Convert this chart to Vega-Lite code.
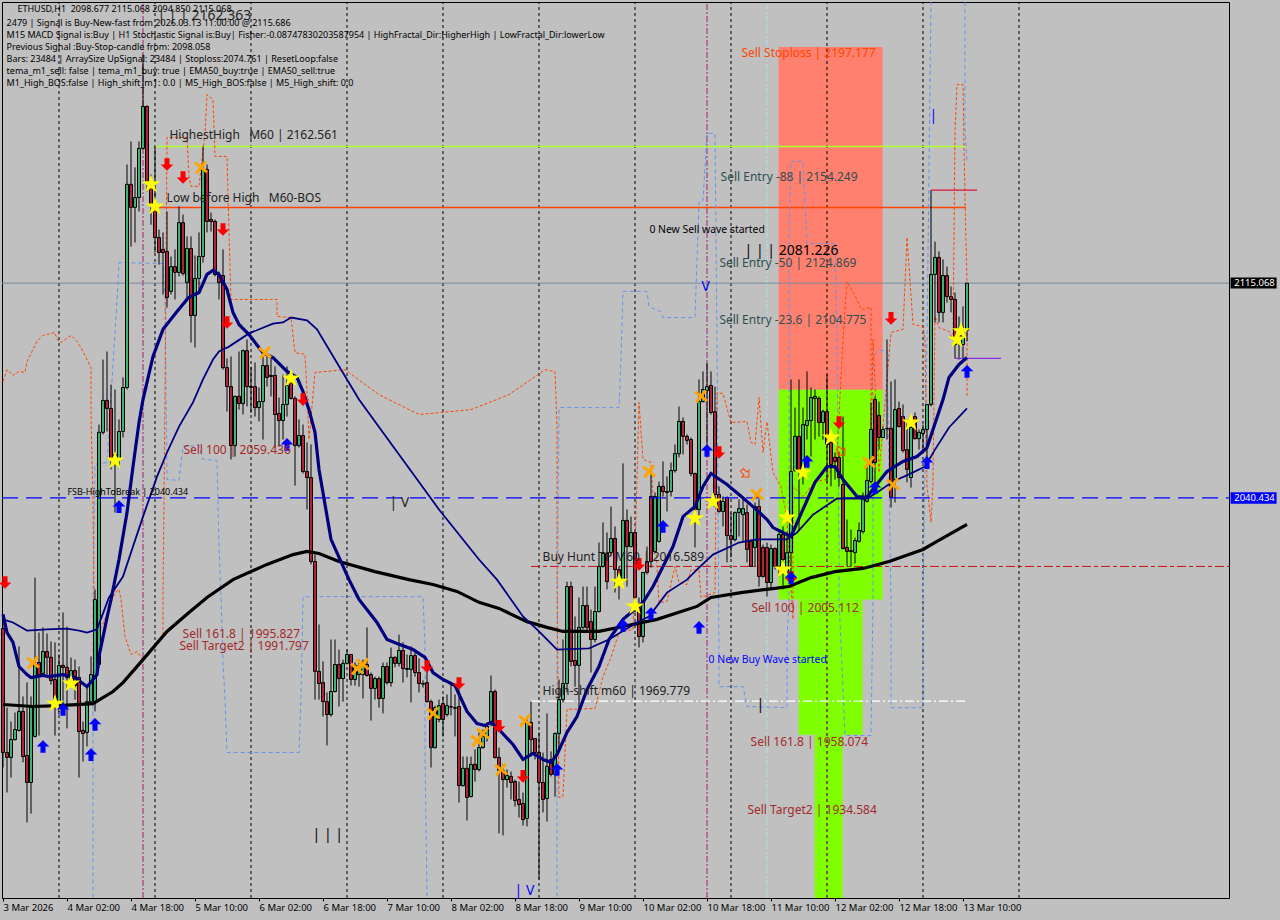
{"$schema":"https://vega.github.io/schema/vega-lite/v6.json","width":1227,"height":896,"autosize":{"type":"none"},"padding":{"left":2,"top":2,"right":51,"bottom":22},"background":"#C0C0C0","config":{"view":{"stroke":"#000000","strokeWidth":1},"text":{"font":"Noto Sans"}},
"datasets":{
"candles":[{"i":0,"o":1995.0,"h":1999.9,"l":1946.7,"c":1951.9},{"i":1,"o":1951.9,"h":1967.5,"l":1938.0,"c":1950.2},{"i":2,"o":1950.2,"h":1962.7,"l":1943.2,"c":1956.4},{"i":3,"o":1956.4,"h":1965.8,"l":1956.1,"c":1959.9},{"i":4,"o":1959.6,"h":1988.8,"l":1959.2,"c":1966.2},{"i":5,"o":1966.2,"h":1971.4,"l":1948.5,"c":1950.5},{"i":6,"o":1950.9,"h":1976.3,"l":1927.6,"c":1941.5},{"i":7,"o":1941.5,"h":1971.4,"l":1930.7,"c":1967.9},{"i":8,"o":1957.5,"h":2012.7,"l":1957.1,"c":1982.5},{"i":9,"o":1983.2,"h":1993.6,"l":1957.8,"c":1979.0},{"i":10,"o":1979.4,"h":1995.4,"l":1978.7,"c":1987.0},{"i":11,"o":1987.0,"h":1993.3,"l":1979.0,"c":1985.0},{"i":12,"o":1985.0,"h":1990.5,"l":1975.5,"c":1976.9},{"i":13,"o":1977.3,"h":1990.2,"l":1957.8,"c":1968.6},{"i":14,"o":1969.6,"h":1986.0,"l":1965.1,"c":1982.2},{"i":15,"o":1982.2,"h":2000.6,"l":1965.8,"c":1981.5},{"i":16,"o":1981.5,"h":1995.7,"l":1960.3,"c":1978.0},{"i":17,"o":1976.6,"h":1984.9,"l":1975.9,"c":1980.4},{"i":18,"o":1980.4,"h":1984.2,"l":1970.3,"c":1975.2},{"i":19,"o":1978.0,"h":1981.8,"l":1943.2,"c":1959.2},{"i":20,"o":1959.6,"h":1962.7,"l":1948.8,"c":1958.5},{"i":21,"o":1958.9,"h":1974.8,"l":1954.0,"c":1969.6},{"i":22,"o":1969.6,"h":1985.3,"l":1969.3,"c":1979.0},{"i":23,"o":1969.6,"h":2008.6,"l":1966.2,"c":2005.1},{"i":24,"o":1982.5,"h":2065.9,"l":1981.5,"c":2063.2},{"i":25,"o":2063.2,"h":2088.5,"l":2062.5,"c":2074.3},{"i":26,"o":2074.3,"h":2091.3,"l":2063.5,"c":2071.5},{"i":27,"o":2071.5,"h":2079.8,"l":2050.3,"c":2053.8},{"i":28,"o":2053.1,"h":2078.1,"l":2035.3,"c":2055.5},{"i":29,"o":2053.8,"h":2067.7,"l":2051.3,"c":2063.5},{"i":30,"o":2063.5,"h":2082.3,"l":2061.4,"c":2078.8},{"i":31,"o":2078.8,"h":2156.3,"l":2078.1,"c":2149.4},{"i":32,"o":2149.4,"h":2164.3,"l":2127.8,"c":2141.4},{"i":33,"o":2141.4,"h":2155.3,"l":2129.2,"c":2144.8},{"i":34,"o":2144.8,"h":2164.3,"l":2140.0,"c":2161.9},{"i":35,"o":2161.9,"h":2194.5,"l":2161.5,"c":2176.5},{"i":36,"o":2176.5,"h":2176.8,"l":2146.9,"c":2150.1},{"i":37,"o":2150.1,"h":2152.8,"l":2135.4,"c":2142.4},{"i":38,"o":2141.7,"h":2162.6,"l":2125.7,"c":2130.9},{"i":39,"o":2130.9,"h":2133.7,"l":2121.5,"c":2125.7},{"i":40,"o":2126.8,"h":2132.7,"l":2111.1,"c":2125.7},{"i":41,"o":2126.1,"h":2140.0,"l":2106.6,"c":2110.1},{"i":42,"o":2112.2,"h":2124.3,"l":2111.1,"c":2120.8},{"i":43,"o":2120.8,"h":2126.8,"l":2109.4,"c":2118.8},{"i":44,"o":2118.8,"h":2141.7,"l":2117.4,"c":2136.1},{"i":45,"o":2136.1,"h":2138.9,"l":2117.7,"c":2118.4},{"i":46,"o":2115.3,"h":2131.3,"l":2109.4,"c":2127.1},{"i":47,"o":2127.1,"h":2131.3,"l":2094.4,"c":2103.8},{"i":48,"o":2103.8,"h":2124.7,"l":2092.7,"c":2116.7},{"i":49,"o":2116.7,"h":2132.7,"l":2111.8,"c":2124.3},{"i":50,"o":2124.3,"h":2162.6,"l":2122.2,"c":2154.6},{"i":51,"o":2154.6,"h":2156.3,"l":2132.7,"c":2136.5},{"i":52,"o":2137.2,"h":2139.6,"l":2133.0,"c":2136.5},{"i":53,"o":2136.5,"h":2137.2,"l":2117.4,"c":2118.1},{"i":54,"o":2118.1,"h":2119.1,"l":2109.4,"c":2115.3},{"i":55,"o":2117.7,"h":2126.8,"l":2085.0,"c":2085.7},{"i":56,"o":2085.7,"h":2088.9,"l":2070.4,"c":2079.1},{"i":57,"o":2079.1,"h":2089.6,"l":2053.8,"c":2058.6},{"i":58,"o":2058.6,"h":2076.0,"l":2054.8,"c":2075.7},{"i":59,"o":2075.7,"h":2091.3,"l":2071.1,"c":2073.2},{"i":60,"o":2073.2,"h":2092.0,"l":2069.4,"c":2091.6},{"i":61,"o":2091.6,"h":2095.5,"l":2072.2,"c":2079.1},{"i":62,"o":2079.1,"h":2086.0,"l":2070.0,"c":2078.8},{"i":63,"o":2079.1,"h":2087.5,"l":2068.7,"c":2071.8},{"i":64,"o":2071.8,"h":2078.8,"l":2067.0,"c":2073.9},{"i":65,"o":2073.9,"h":2090.3,"l":2060.7,"c":2086.4},{"i":66,"o":2086.4,"h":2089.6,"l":2079.1,"c":2082.3},{"i":67,"o":2083.0,"h":2089.2,"l":2075.7,"c":2082.6},{"i":68,"o":2083.0,"h":2086.1,"l":2057.9,"c":2069.4},{"i":69,"o":2069.8,"h":2075.3,"l":2058.3,"c":2067.3},{"i":70,"o":2067.3,"h":2083.3,"l":2060.7,"c":2072.9},{"i":71,"o":2072.9,"h":2086.1,"l":2068.7,"c":2079.5},{"i":72,"o":2080.5,"h":2083.3,"l":2074.6,"c":2075.0},{"i":73,"o":2075.0,"h":2075.7,"l":2044.7,"c":2058.6},{"i":74,"o":2058.6,"h":2067.7,"l":2057.9,"c":2062.1},{"i":75,"o":2062.1,"h":2065.9,"l":2048.9,"c":2049.6},{"i":76,"o":2049.6,"h":2059.7,"l":2036.4,"c":2047.5},{"i":77,"o":2047.5,"h":2059.0,"l":2017.3,"c":2018.3},{"i":78,"o":2018.3,"h":2020.7,"l":1970.3,"c":1980.1},{"i":79,"o":1980.1,"h":1996.4,"l":1970.3,"c":1975.9},{"i":80,"o":1976.2,"h":1983.6,"l":1964.4,"c":1969.6},{"i":81,"o":1969.6,"h":1972.8,"l":1954.4,"c":1965.1},{"i":82,"o":1965.1,"h":1991.2,"l":1964.4,"c":1973.1},{"i":83,"o":1973.1,"h":1991.2,"l":1972.8,"c":1982.5},{"i":84,"o":1982.5,"h":1987.7,"l":1967.9,"c":1977.6},{"i":85,"o":1977.6,"h":1984.2,"l":1969.6,"c":1982.9},{"i":86,"o":1982.9,"h":1987.7,"l":1982.5,"c":1986.0},{"i":87,"o":1986.0,"h":1986.0,"l":1975.2,"c":1977.3},{"i":88,"o":1977.3,"h":1983.2,"l":1975.2,"c":1982.2},{"i":89,"o":1979.0,"h":1984.2,"l":1974.8,"c":1982.2},{"i":90,"o":1979.0,"h":1984.2,"l":1970.7,"c":1982.5},{"i":91,"o":1982.5,"h":1995.4,"l":1978.3,"c":1978.7},{"i":92,"o":1979.0,"h":1979.7,"l":1963.0,"c":1974.2},{"i":93,"o":1974.2,"h":1978.3,"l":1970.3,"c":1977.6},{"i":94,"o":1977.6,"h":1978.3,"l":1967.5,"c":1970.7},{"i":95,"o":1970.7,"h":1983.2,"l":1965.5,"c":1981.8},{"i":96,"o":1981.8,"h":1983.2,"l":1975.5,"c":1976.2},{"i":97,"o":1976.2,"h":1988.4,"l":1974.8,"c":1985.0},{"i":98,"o":1985.0,"h":1985.3,"l":1981.5,"c":1982.9},{"i":99,"o":1982.9,"h":1992.9,"l":1981.8,"c":1987.4},{"i":100,"o":1987.4,"h":1990.2,"l":1976.2,"c":1981.1},{"i":101,"o":1980.8,"h":1986.0,"l":1978.0,"c":1981.1},{"i":102,"o":1980.8,"h":1988.8,"l":1969.3,"c":1985.6},{"i":103,"o":1985.6,"h":1986.7,"l":1978.3,"c":1979.7},{"i":104,"o":1979.7,"h":1984.6,"l":1972.8,"c":1975.9},{"i":105,"o":1975.9,"h":1977.0,"l":1974.5,"c":1975.7},{"i":106,"o":1976.2,"h":1984.2,"l":1969.3,"c":1969.6},{"i":107,"o":1969.6,"h":1970.3,"l":1946.7,"c":1953.6},{"i":108,"o":1953.6,"h":1968.2,"l":1953.3,"c":1967.5},{"i":109,"o":1963.4,"h":1970.3,"l":1962.4,"c":1968.2},{"i":110,"o":1968.9,"h":1971.4,"l":1957.5,"c":1963.4},{"i":111,"o":1965.1,"h":1972.1,"l":1964.4,"c":1968.2},{"i":112,"o":1967.9,"h":1975.5,"l":1964.8,"c":1967.7},{"i":113,"o":1967.5,"h":1972.1,"l":1957.5,"c":1967.3},{"i":114,"o":1967.9,"h":1973.8,"l":1934.5,"c":1940.4},{"i":115,"o":1940.4,"h":1950.5,"l":1940.1,"c":1946.4},{"i":116,"o":1946.4,"h":1950.5,"l":1928.3,"c":1936.3},{"i":117,"o":1936.6,"h":1950.5,"l":1936.3,"c":1947.8},{"i":118,"o":1947.8,"h":1953.0,"l":1941.8,"c":1946.0},{"i":119,"o":1946.0,"h":1958.9,"l":1945.3,"c":1953.6},{"i":120,"o":1953.6,"h":1959.9,"l":1953.3,"c":1957.5},{"i":121,"o":1957.5,"h":1962.4,"l":1955.7,"c":1961.0},{"i":122,"o":1962.4,"h":1978.7,"l":1961.0,"c":1973.1},{"i":123,"o":1973.1,"h":1973.8,"l":1949.8,"c":1950.2},{"i":124,"o":1950.2,"h":1953.6,"l":1923.8,"c":1945.7},{"i":125,"o":1945.7,"h":1947.8,"l":1923.1,"c":1942.5},{"i":126,"o":1942.5,"h":1946.0,"l":1939.7,"c":1943.9},{"i":127,"o":1943.6,"h":1945.3,"l":1935.6,"c":1941.5},{"i":128,"o":1941.8,"h":1942.5,"l":1933.1,"c":1935.2},{"i":129,"o":1935.6,"h":1941.8,"l":1929.3,"c":1933.8},{"i":130,"o":1934.2,"h":1938.0,"l":1926.5,"c":1928.6},{"i":131,"o":1929.0,"h":1964.4,"l":1926.2,"c":1962.4},{"i":132,"o":1962.4,"h":1969.6,"l":1950.5,"c":1956.4},{"i":133,"o":1956.8,"h":1956.8,"l":1949.5,"c":1951.9},{"i":134,"o":1951.9,"h":1958.9,"l":1907.8,"c":1941.5},{"i":135,"o":1941.5,"h":1951.9,"l":1931.1,"c":1935.6},{"i":136,"o":1935.9,"h":1965.5,"l":1927.9,"c":1947.1},{"i":137,"o":1949.5,"h":1952.3,"l":1943.6,"c":1944.3},{"i":138,"o":1944.3,"h":1958.9,"l":1936.6,"c":1958.5},{"i":139,"o":1958.5,"h":1977.3,"l":1953.0,"c":1970.3},{"i":140,"o":1970.3,"h":1991.2,"l":1969.3,"c":1975.9},{"i":141,"o":1975.9,"h":2011.3,"l":1972.8,"c":2009.6},{"i":142,"o":2009.6,"h":2011.3,"l":1981.8,"c":1983.6},{"i":143,"o":1983.9,"h":1999.2,"l":1974.8,"c":1982.2},{"i":144,"o":1982.2,"h":2005.8,"l":1965.8,"c":1995.4},{"i":145,"o":1995.4,"h":2009.6,"l":1994.7,"c":2003.0},{"i":146,"o":2003.0,"h":2009.6,"l":1994.0,"c":1995.4},{"i":147,"o":1997.4,"h":2001.6,"l":1979.7,"c":1991.2},{"i":148,"o":1991.2,"h":2009.6,"l":1990.2,"c":2000.9},{"i":149,"o":2000.9,"h":2024.9,"l":2000.6,"c":2016.6},{"i":150,"o":2016.6,"h":2031.9,"l":2016.2,"c":2021.1},{"i":151,"o":2021.1,"h":2028.4,"l":2008.6,"c":2011.3},{"i":152,"o":2021.4,"h":2037.4,"l":2020.7,"c":2026.3},{"i":153,"o":2026.3,"h":2030.5,"l":2007.5,"c":2015.5},{"i":154,"o":2015.5,"h":2016.6,"l":2005.1,"c":2012.0},{"i":155,"o":2012.0,"h":2052.4,"l":2011.3,"c":2032.6},{"i":156,"o":2032.6,"h":2036.4,"l":2009.6,"c":2023.5},{"i":157,"o":2023.5,"h":2033.9,"l":2023.2,"c":2028.4},{"i":158,"o":2028.4,"h":2028.4,"l":2000.6,"c":2005.8},{"i":159,"o":2002.3,"h":2005.8,"l":1988.4,"c":1992.2},{"i":160,"o":1992.2,"h":2014.5,"l":1990.2,"c":2014.5},{"i":161,"o":2018.3,"h":2023.5,"l":2013.8,"c":2014.5},{"i":162,"o":2040.9,"h":2049.2,"l":2016.2,"c":2018.3},{"i":163,"o":2021.8,"h":2042.3,"l":2021.4,"c":2040.9},{"i":164,"o":2025.3,"h":2046.1,"l":2024.9,"c":2044.4},{"i":165,"o":2044.4,"h":2053.1,"l":2040.9,"c":2042.6},{"i":166,"o":2042.6,"h":2047.9,"l":2035.7,"c":2042.3},{"i":167,"o":2042.6,"h":2052.7,"l":2040.9,"c":2049.9},{"i":168,"o":2049.9,"h":2059.0,"l":2049.2,"c":2055.8},{"i":169,"o":2055.8,"h":2072.2,"l":2054.5,"c":2067.0},{"i":170,"o":2067.0,"h":2068.4,"l":2055.5,"c":2061.8},{"i":171,"o":2061.8,"h":2062.5,"l":2059.0,"c":2060.4},{"i":172,"o":2060.7,"h":2061.4,"l":2047.9,"c":2048.9},{"i":173,"o":2048.9,"h":2049.2,"l":2023.2,"c":2036.4},{"i":174,"o":2036.4,"h":2081.6,"l":2032.9,"c":2073.9},{"i":175,"o":2073.9,"h":2084.4,"l":2073.6,"c":2078.1},{"i":176,"o":2077.7,"h":2087.5,"l":2059.0,"c":2079.1},{"i":177,"o":2079.5,"h":2084.4,"l":2069.4,"c":2070.1},{"i":178,"o":2070.4,"h":2079.1,"l":2037.4,"c":2041.6},{"i":179,"o":2041.6,"h":2044.4,"l":2035.3,"c":2035.7},{"i":180,"o":2035.7,"h":2040.9,"l":2030.5,"c":2039.2},{"i":181,"o":2040.6,"h":2040.9,"l":2018.0,"c":2027.3},{"i":182,"o":2027.3,"h":2035.3,"l":2019.7,"c":2025.9},{"i":183,"o":2025.9,"h":2035.7,"l":2025.3,"c":2035.3},{"i":184,"o":2035.3,"h":2039.9,"l":2027.0,"c":2036.7},{"i":185,"o":2034.6,"h":2040.6,"l":2025.3,"c":2036.7},{"i":186,"o":2035.3,"h":2038.1,"l":2018.0,"c":2022.5},{"i":187,"o":2025.3,"h":2026.0,"l":2016.6,"c":2016.6},{"i":188,"o":2023.2,"h":2038.8,"l":2016.6,"c":2037.4},{"i":189,"o":2037.4,"h":2039.9,"l":2009.6,"c":2013.1},{"i":190,"o":2023.2,"h":2024.2,"l":2012.7,"c":2013.1},{"i":191,"o":2023.2,"h":2024.9,"l":2006.1,"c":2011.0},{"i":192,"o":2011.0,"h":2024.2,"l":2008.6,"c":2022.8},{"i":193,"o":2022.8,"h":2023.2,"l":2015.5,"c":2016.6},{"i":194,"o":2016.6,"h":2029.4,"l":2013.1,"c":2027.7},{"i":195,"o":2027.7,"h":2030.5,"l":2008.6,"c":2019.0},{"i":196,"o":2014.5,"h":2028.4,"l":2013.8,"c":2021.4},{"i":197,"o":2021.4,"h":2081.6,"l":2010.3,"c":2049.6},{"i":198,"o":2049.9,"h":2071.8,"l":2049.6,"c":2061.8},{"i":199,"o":2061.8,"h":2081.6,"l":2029.4,"c":2049.9},{"i":200,"o":2049.9,"h":2071.8,"l":2045.1,"c":2065.9},{"i":201,"o":2065.6,"h":2084.4,"l":2060.7,"c":2067.3},{"i":202,"o":2067.3,"h":2078.8,"l":2054.8,"c":2075.3},{"i":203,"o":2075.0,"h":2078.1,"l":2060.7,"c":2075.7},{"i":204,"o":2075.0,"h":2075.7,"l":2061.7,"c":2066.6},{"i":205,"o":2066.6,"h":2071.1,"l":2060.7,"c":2070.4},{"i":206,"o":2070.4,"h":2083.3,"l":2045.8,"c":2059.0},{"i":207,"o":2059.7,"h":2061.4,"l":2044.4,"c":2052.0},{"i":208,"o":2054.5,"h":2056.2,"l":2046.8,"c":2053.1},{"i":209,"o":2054.5,"h":2056.2,"l":2044.4,"c":2047.5},{"i":210,"o":2045.1,"h":2068.7,"l":2022.5,"c":2022.8},{"i":211,"o":2023.2,"h":2032.9,"l":2016.6,"c":2021.8},{"i":212,"o":2022.1,"h":2029.4,"l":2016.6,"c":2021.8},{"i":213,"o":2021.4,"h":2026.6,"l":2017.6,"c":2025.6},{"i":214,"o":2025.3,"h":2031.9,"l":2024.9,"c":2029.1},{"i":215,"o":2028.7,"h":2042.3,"l":2028.0,"c":2039.9},{"i":216,"o":2039.2,"h":2051.3,"l":2038.8,"c":2046.5},{"i":217,"o":2046.1,"h":2073.6,"l":2045.4,"c":2064.2},{"i":218,"o":2074.6,"h":2075.7,"l":2045.1,"c":2052.7},{"i":219,"o":2069.1,"h":2073.9,"l":2057.2,"c":2061.4},{"i":220,"o":2061.4,"h":2065.2,"l":2061.4,"c":2064.2},{"i":221,"o":2064.6,"h":2095.5,"l":2060.7,"c":2064.4},{"i":222,"o":2064.6,"h":2080.9,"l":2037.1,"c":2040.6},{"i":223,"o":2046.8,"h":2081.6,"l":2038.8,"c":2071.1},{"i":224,"o":2071.5,"h":2073.9,"l":2064.9,"c":2065.2},{"i":225,"o":2068.7,"h":2072.9,"l":2056.2,"c":2056.9},{"i":226,"o":2057.2,"h":2067.7,"l":2045.8,"c":2050.3},{"i":227,"o":2047.5,"h":2067.7,"l":2044.0,"c":2064.9},{"i":228,"o":2068.7,"h":2070.1,"l":2060.7,"c":2061.0},{"i":229,"o":2061.0,"h":2064.2,"l":2057.2,"c":2063.2},{"i":230,"o":2062.8,"h":2065.9,"l":2056.2,"c":2064.2},{"i":231,"o":2064.2,"h":2072.9,"l":2052.0,"c":2072.9},{"i":232,"o":2072.9,"h":2147.4,"l":2072.2,"c":2118.1},{"i":233,"o":2118.1,"h":2129.5,"l":2101.4,"c":2124.0},{"i":234,"o":2124.0,"h":2126.1,"l":2101.4,"c":2104.9},{"i":235,"o":2104.9,"h":2123.3,"l":2101.4,"c":2117.7},{"i":236,"o":2117.7,"h":2120.8,"l":2108.3,"c":2110.4},{"i":237,"o":2110.4,"h":2113.9,"l":2104.9,"c":2109.4},{"i":238,"o":2109.4,"h":2111.8,"l":2088.9,"c":2093.7},{"i":239,"o":2097.2,"h":2103.5,"l":2088.5,"c":2095.5},{"i":240,"o":2093.7,"h":2107.0,"l":2088.5,"c":2098.6},{"i":241,"o":2098.677,"h":2115.068,"l":2094.85,"c":2115.068}],
"fast":[{"i":0,"p":1999.9},{"i":1,"p":1993.6},{"i":2.5,"p":1990.2},{"i":4,"p":1981.8},{"i":6,"p":1979.0},{"i":7,"p":1978.0},{"i":10,"p":1978.7},{"i":11.5,"p":1978.3},{"i":15,"p":1979.0},{"i":18,"p":1978.0},{"i":21,"p":1974.8},{"i":22.5,"p":1977.3},{"i":23.5,"p":1979.0},{"i":24,"p":1985.3},{"i":26,"p":1998.8},{"i":27,"p":2005.1},{"i":29,"p":2019.0},{"i":31,"p":2035.3},{"i":32.5,"p":2051.3},{"i":34,"p":2066.6},{"i":35,"p":2074.6},{"i":37.5,"p":2089.6},{"i":40,"p":2099.0},{"i":43.5,"p":2105.2},{"i":46,"p":2109.4},{"i":46.5,"p":2110.1},{"i":49,"p":2111.8},{"i":51,"p":2118.1},{"i":52.5,"p":2119.5},{"i":54,"p":2118.1},{"i":56,"p":2112.9},{"i":56.5,"p":2110.1},{"i":57.5,"p":2104.9},{"i":59,"p":2100.7},{"i":61.5,"p":2097.2},{"i":65,"p":2090.9},{"i":67.5,"p":2089.2},{"i":71,"p":2084.4},{"i":73.5,"p":2082.3},{"i":75,"p":2077.4},{"i":76.5,"p":2071.1},{"i":78,"p":2063.2},{"i":79,"p":2050.3},{"i":82,"p":2026.0},{"i":86.5,"p":2012.0},{"i":89,"p":2005.1},{"i":93.5,"p":1997.1},{"i":96,"p":1991.2},{"i":98.5,"p":1989.8},{"i":102.5,"p":1987.7},{"i":105.5,"p":1985.0},{"i":107.5,"p":1979.7},{"i":110,"p":1977.3},{"i":113,"p":1975.2},{"i":116,"p":1966.2},{"i":118.5,"p":1962.0},{"i":120.5,"p":1961.3},{"i":122,"p":1962.4},{"i":124,"p":1959.9},{"i":127.5,"p":1954.7},{"i":130,"p":1949.5},{"i":132.5,"p":1951.6},{"i":135,"p":1949.5},{"i":137,"p":1948.5},{"i":138.5,"p":1951.2},{"i":141,"p":1958.9},{"i":143.5,"p":1964.4},{"i":146,"p":1973.8},{"i":149,"p":1981.8},{"i":151.5,"p":1991.2},{"i":155,"p":1998.2},{"i":160,"p":2004.1},{"i":162.5,"p":2009.6},{"i":167.5,"p":2023.5},{"i":170,"p":2033.9},{"i":173,"p":2037.4},{"i":175,"p":2044.4},{"i":177,"p":2048.9},{"i":181,"p":2045.1},{"i":184,"p":2041.6},{"i":187.5,"p":2037.4},{"i":191,"p":2032.9},{"i":192.5,"p":2030.1},{"i":197,"p":2027.0},{"i":200,"p":2036.4},{"i":203,"p":2045.8},{"i":206,"p":2051.3},{"i":208,"p":2051.3},{"i":210,"p":2046.8},{"i":213.5,"p":2040.9},{"i":216,"p":2040.6},{"i":218,"p":2044.4},{"i":221,"p":2049.6},{"i":225,"p":2053.1},{"i":228.5,"p":2054.8},{"i":231,"p":2057.9},{"i":232.5,"p":2064.2},{"i":235,"p":2074.6},{"i":236.5,"p":2082.3},{"i":239,"p":2086.8},{"i":241,"p":2089.2}],
"slow":[{"i":0,"p":1998.2},{"i":2.5,"p":1997.1},{"i":6,"p":1994.3},{"i":11,"p":1994.7},{"i":16,"p":1995.0},{"i":19,"p":1994.3},{"i":21,"p":1993.6},{"i":23.5,"p":1994.7},{"i":26.5,"p":2005.8},{"i":30,"p":2013.1},{"i":32.5,"p":2023.5},{"i":35,"p":2033.9},{"i":38.5,"p":2047.8},{"i":41,"p":2056.2},{"i":44,"p":2065.2},{"i":47.5,"p":2073.6},{"i":50,"p":2081.6},{"i":52.5,"p":2088.5},{"i":54,"p":2091.3},{"i":56.5,"p":2093.0},{"i":61.5,"p":2097.6},{"i":67.5,"p":2101.0},{"i":70,"p":2101.4},{"i":72,"p":2103.1},{"i":76,"p":2102.1},{"i":78.5,"p":2099.0},{"i":83,"p":2088.5},{"i":89,"p":2074.6},{"i":99,"p":2055.5},{"i":109,"p":2036.4},{"i":119,"p":2019.0},{"i":123.5,"p":2012.0},{"i":130,"p":1999.2},{"i":134,"p":1994.0},{"i":138.5,"p":1987.7},{"i":146.5,"p":1988.1},{"i":151.5,"p":1991.2},{"i":158.5,"p":1997.1},{"i":161.5,"p":1999.2},{"i":166,"p":2007.5},{"i":171,"p":2012.0},{"i":174,"p":2016.2},{"i":177.5,"p":2020.7},{"i":184,"p":2024.9},{"i":188.5,"p":2026.0},{"i":196,"p":2026.0},{"i":198.5,"p":2028.4},{"i":202.5,"p":2034.6},{"i":208.5,"p":2040.2},{"i":216,"p":2040.2},{"i":218.5,"p":2042.3},{"i":222.5,"p":2046.1},{"i":226.5,"p":2048.6},{"i":230.5,"p":2051.3},{"i":233,"p":2057.2},{"i":236.5,"p":2064.9},{"i":241,"p":2071.5}],
"ema200":[{"i":0,"p":1968.6},{"i":7.5,"p":1967.9},{"i":14,"p":1968.2},{"i":22.5,"p":1968.9},{"i":27.5,"p":1973.1},{"i":30,"p":1976.2},{"i":35,"p":1984.2},{"i":41,"p":1994.0},{"i":46.5,"p":2000.6},{"i":51,"p":2005.8},{"i":57.5,"p":2012.0},{"i":66,"p":2017.3},{"i":72.5,"p":2020.7},{"i":76,"p":2021.8},{"i":79,"p":2021.1},{"i":84,"p":2018.3},{"i":93,"p":2014.8},{"i":101.5,"p":2012.0},{"i":107.5,"p":2010.3},{"i":113.5,"p":2007.9},{"i":119,"p":2004.1},{"i":124,"p":2002.0},{"i":131,"p":1997.4},{"i":136,"p":1995.4},{"i":140,"p":1994.0},{"i":149,"p":1994.0},{"i":155,"p":1995.7},{"i":163.5,"p":1998.2},{"i":173.5,"p":2002.7},{"i":177,"p":2005.8},{"i":184.5,"p":2007.5},{"i":192.5,"p":2008.9},{"i":196.5,"p":2009.6},{"i":202,"p":2012.7},{"i":208,"p":2014.8},{"i":215,"p":2015.9},{"i":221.5,"p":2018.3},{"i":230,"p":2022.5},{"i":233.5,"p":2025.3},{"i":241,"p":2031.2}],
"blueStep":[{"s":"a","i":22.5,"p":1901.5},{"s":"a","i":22.5,"p":2005.1},{"s":"a","i":23,"p":2052.0},{"s":"a","i":26,"p":2052.7},{"s":"a","i":28.5,"p":2109.4},{"s":"a","i":29,"p":2122.2},{"s":"a","i":40,"p":2121.9},{"s":"a","i":40.5,"p":2109.4},{"s":"a","i":41,"p":2046.8},{"s":"a","i":44,"p":2046.5},{"s":"a","i":45,"p":2058.3},{"s":"a","i":49,"p":2058.6},{"s":"a","i":50,"p":2053.8},{"s":"a","i":53.5,"p":2053.4},{"s":"a","i":54,"p":2023.5},{"s":"a","i":54.5,"p":2005.8},{"s":"a","i":55,"p":1983.6},{"s":"a","i":55.5,"p":1970.3},{"s":"a","i":56,"p":1951.9},{"s":"a","i":74,"p":1951.9},{"s":"a","i":74.5,"p":1971.4},{"s":"a","i":75,"p":2005.1},{"s":"a","i":75,"p":2006.1},{"s":"a","i":105,"p":2006.1},{"s":"a","i":105.5,"p":1988.8},{"s":"a","i":105.5,"p":1951.9},{"s":"a","i":106,"p":1901.9},{"s":"b","i":138.5,"p":1901.9},{"s":"b","i":138.5,"p":1984.2},{"s":"b","i":139,"p":2071.8},{"s":"b","i":154,"p":2071.8},{"s":"b","i":154.5,"p":2088.5},{"s":"b","i":155,"p":2112.2},{"s":"b","i":161,"p":2112.2},{"s":"b","i":161.5,"p":2106.9},{"s":"b","i":164.5,"p":2105.2},{"s":"b","i":165,"p":2103.1},{"s":"b","i":173,"p":2103.1},{"s":"b","i":174,"p":2143.4},{"s":"b","i":175,"p":2143.8},{"s":"b","i":176,"p":2167.1},{"s":"b","i":178,"p":2167.1},{"s":"b","i":178.5,"p":2095.5},{"s":"b","i":179,"p":1984.2},{"s":"b","i":179,"p":1974.8},{"s":"b","i":185,"p":1974.8},{"s":"b","i":186,"p":1967.9},{"s":"b","i":196,"p":1967.5},{"s":"b","i":196,"p":1991.2},{"s":"b","i":196.5,"p":2005.1},{"s":"b","i":196.5,"p":2133.7},{"s":"b","i":197,"p":2157.4},{"s":"b","i":200,"p":2157.4},{"s":"b","i":201,"p":2128.8},{"s":"b","i":208,"p":2128.8},{"s":"b","i":208.5,"p":2095.5},{"s":"b","i":209,"p":2021.4},{"s":"b","i":209,"p":2005.1},{"s":"b","i":210,"p":1973.8},{"s":"b","i":210.5,"p":1957.8},{"s":"b","i":217,"p":1957.8},{"s":"b","i":217.5,"p":2005.1},{"s":"b","i":217.5,"p":2088.5},{"s":"b","i":218.5,"p":2091.6},{"s":"b","i":221,"p":2091.6},{"s":"b","i":222,"p":2005.1},{"s":"b","i":222,"p":1967.5},{"s":"b","i":230,"p":1967.5},{"s":"b","i":230,"p":2005.1},{"s":"b","i":231,"p":2095.5},{"s":"b","i":232,"p":2212.7},{"s":"c","i":240.5,"p":2212.7},{"s":"c","i":240.5,"p":2196.3},{"s":"c","i":240.5,"p":2169.5},{"s":"c","i":241,"p":2157.0}],
"orangeStep":[{"i":0,"p":2080.9},{"i":1,"p":2085.0},{"i":2.5,"p":2083.0},{"i":4,"p":2084.4},{"i":5.5,"p":2084.0},{"i":6,"p":2087.8},{"i":7.5,"p":2092.0},{"i":8.5,"p":2094.8},{"i":10,"p":2096.9},{"i":13,"p":2097.9},{"i":13.5,"p":2095.5},{"i":14.5,"p":2094.4},{"i":17,"p":2096.9},{"i":18.5,"p":2094.8},{"i":19.5,"p":2092.7},{"i":21,"p":2088.5},{"i":22,"p":2085.7},{"i":22,"p":2069.4},{"i":22.5,"p":2039.9},{"i":23,"p":1972.8},{"i":23.5,"p":1991.2},{"i":24,"p":1993.6},{"i":26,"p":1999.9},{"i":28,"p":2007.5},{"i":29,"p":2008.6},{"i":29.5,"p":2005.1},{"i":30.5,"p":1992.2},{"i":32,"p":1986.0},{"i":33.5,"p":1987.0},{"i":35,"p":1984.2},{"i":36.5,"p":1986.0},{"i":37.5,"p":1988.8},{"i":40,"p":1992.9},{"i":40,"p":2005.1},{"i":40.5,"p":2074.6},{"i":41,"p":2165.7},{"i":46,"p":2165.7},{"i":46.5,"p":2152.1},{"i":47,"p":2148.7},{"i":49,"p":2148.7},{"i":50.5,"p":2167.4},{"i":51,"p":2180.6},{"i":52.5,"p":2178.9},{"i":53,"p":2159.1},{"i":56,"p":2159.1},{"i":56.5,"p":2132.7},{"i":57,"p":2109.4},{"i":68.5,"p":2109.4},{"i":68.5,"p":2103.5},{"i":72,"p":2103.1},{"i":73,"p":2090.9},{"i":75.5,"p":2090.3},{"i":76,"p":2077.4},{"i":76.5,"p":2060.7},{"i":78,"p":2084.0},{"i":85.5,"p":2085.0},{"i":94,"p":2076.3},{"i":104,"p":2069.4},{"i":117,"p":2071.1},{"i":126.5,"p":2076.3},{"i":135.5,"p":2085.0},{"i":138,"p":2084.3},{"i":138.5,"p":2065.2},{"i":138.5,"p":2012.0},{"i":139,"p":1936.3},{"i":140,"p":1936.6},{"i":141,"p":1966.9},{"i":148,"p":1967.2},{"i":150,"p":1978.3},{"i":152,"p":1985.0},{"i":154,"p":1993.6},{"i":157.5,"p":1994.7},{"i":159,"p":2073.6},{"i":160,"p":2053.8},{"i":162,"p":2052.7},{"i":164,"p":2004.0},{"i":166,"p":2004.4},{"i":168,"p":2016.6},{"i":169,"p":2011.0},{"i":171,"p":2010.3},{"i":172,"p":2015.5},{"i":174,"p":2015.2},{"i":174.5,"p":2005.8},{"i":178,"p":2007.5},{"i":178.5,"p":2077.0},{"i":180,"p":2076.7},{"i":182,"p":2066.6},{"i":186,"p":2067.0},{"i":187,"p":2059.7},{"i":188,"p":2059.0},{"i":189,"p":2075.3},{"i":190,"p":2056.2},{"i":191,"p":2066.9},{"i":192.5,"p":2049.2},{"i":194.5,"p":2044.4},{"i":196,"p":2032.9},{"i":197.5,"p":1998.2},{"i":197.5,"p":2044.4},{"i":200,"p":2040.9},{"i":203,"p":2046.1},{"i":206,"p":2046.8},{"i":208.5,"p":2055.5},{"i":210,"p":2095.5},{"i":211,"p":2115.6},{"i":213.5,"p":2109.4},{"i":214.5,"p":2105.9},{"i":217,"p":2106.6},{"i":217.5,"p":2095.5},{"i":217,"p":2054.8},{"i":219,"p":2049.2},{"i":222,"p":2097.9},{"i":225,"p":2099.0},{"i":226,"p":2131.0},{"i":227.5,"p":2100.7},{"i":230,"p":2100.0},{"i":230.5,"p":2095.5},{"i":231,"p":2044.4},{"i":232,"p":2031.9},{"i":232.5,"p":2045.8},{"i":233,"p":2103.5},{"i":234,"p":2099.6},{"i":236.5,"p":2098.3},{"i":237.5,"p":2095.5},{"i":238,"p":2167.4},{"i":238.5,"p":2184.1},{"i":240,"p":2184.1},{"i":240.5,"p":2144.1},{"i":241,"p":2115.3},{"i":241,"p":2075.3}],
"stars":[{"i":37,"p":2149.4},{"i":38,"p":2141.7},{"i":28,"p":2053.4},{"i":13,"p":1968.9},{"i":17,"p":1975.9},{"i":72,"p":2081.9},{"i":154,"p":2011.3},{"i":158,"p":2002.7},{"i":173,"p":2033.3},{"i":177.5,"p":2039.2},{"i":196,"p":2033.6},{"i":195,"p":2015.5},{"i":200,"p":2049.2},{"i":207,"p":2061.4},{"i":227,"p":2066.6},{"i":238.5,"p":2095.5},{"i":239.5,"p":2098.3}],
"crosses":[{"i":7.5,"p":1983.2},{"i":49.5,"p":2155.3},{"i":65.5,"p":2090.9},{"i":88.5,"p":1981.1},{"i":90,"p":1982.5},{"i":107.5,"p":1965.5},{"i":118.5,"p":1956.1},{"i":120,"p":1958.5},{"i":124.5,"p":1946.0},{"i":130.5,"p":1963.0},{"i":161.5,"p":2049.6},{"i":174.5,"p":2075.7},{"i":188.5,"p":2041.6},{"i":216.5,"p":2052.7},{"i":222.5,"p":2045.1}],
"redArrows":[{"i":0.5,"p":2011.0},{"i":41,"p":2156.3},{"i":45,"p":2151.8},{"i":55,"p":2133.7},{"i":56,"p":2101.4},{"i":75,"p":2074.6},{"i":106,"p":1981.8},{"i":114,"p":1975.9},{"i":124,"p":1961.0},{"i":130,"p":1943.6},{"i":159,"p":2017.3},{"i":179,"p":2056.2},{"i":209,"p":2066.6},{"i":222,"p":2102.8},{"i":197,"p":2012.7}],
"blueArrows":[{"i":29,"p":2037.4},{"i":71,"p":2059.0},{"i":10,"p":1954.0},{"i":15,"p":1966.9},{"i":22,"p":1951.2},{"i":23,"p":1961.7},{"i":138.5,"p":1946.0},{"i":155,"p":1996.1},{"i":162,"p":2000.2},{"i":165,"p":2030.5},{"i":176,"p":2056.9},{"i":174,"p":1995.4},{"i":197,"p":2012.7},{"i":201,"p":2053.1},{"i":218,"p":2044.0},{"i":231,"p":2052.7},{"i":241,"p":2084.4}],
"labelsMain":[{"i":41.6,"p":2166.4,"t":"HighestHigh\u00a0\u00a0\u00a0M60 | 2162.561","k":"note"},{"i":40.9,"p":2144.7,"t":"Low before High\u00a0\u00a0\u00a0M60-BOS","k":"note"},{"i":184.6,"p":2194.9,"t":"Sell Stoploss | 2197.177","k":"stop"},{"i":179.4,"p":2152.1,"t":"Sell Entry -88 | 2154.249","k":"entry"},{"i":179.1,"p":2122.2,"t":"Sell Entry -50 | 2124.869","k":"entry"},{"i":179.1,"p":2102.1,"t":"Sell Entry -23.6 | 2104.775","k":"entry"},{"i":45.1,"p":2056.9,"t":"Sell 100 | 2059.436","k":"sell"},{"i":134.9,"p":2019.9,"t":"Buy Hunt TP M60 | 2016.589","k":"note"},{"i":187.1,"p":2002.3,"t":"Sell 100 | 2005.112","k":"sell"},{"i":44.9,"p":1993.1,"t":"Sell 161.8 | 1995.827","k":"sell"},{"i":44.1,"p":1988.9,"t":"Sell Target2 | 1991.797","k":"sell"},{"i":134.9,"p":1973.3,"t":"High-shift m60 | 1969.779","k":"note"},{"i":186.9,"p":1955.4,"t":"Sell 161.8 | 1958.074","k":"sell"},{"i":186.1,"p":1931.8,"t":"Sell Target2 | 1934.584","k":"sell"}],
"labelsSmall":[{"i":161.6,"p":2133.5,"t":"0 New Sell wave started","k":"black"},{"i":176.4,"p":1984.2,"t":"0 New Buy Wave started","k":"blue"}],
"labelsLarge":[{"i":38.6,"p":2207.8,"t":"| | | 2162.363","k":"note"},{"i":185.4,"p":2126.4,"t":"| | | 2081.226","k":"black"},{"i":77.4,"p":1923.1,"t":"| | |","k":"black"},{"i":96.6,"p":2038.8,"t":"|\u00a0V","k":"note"},{"i":127.9,"p":1903.9,"t":"|\u00a0V","k":"blue"},{"i":174.6,"p":2113.6,"t":"V","k":"blue"},{"i":231.6,"p":2173.3,"t":"|","k":"blue"},{"i":188.4,"p":1968.6,"t":"|","k":"black"}],
"header":[{"i":3.6,"p":2210.2,"t":"ETHUSD,H1\u00a0\u00a02098.677 2115.068 2094.850 2115.068"},{"i":0.9,"p":2205.5,"t":"2479 | Signal is Buy-New-fast from 2026.03.13 11:00:00 @ 2115.686"},{"i":0.9,"p":2201.3,"t":"M15 MACD Signal is:Buy | H1 Stochastic Signal is:Buy| Fisher:-0.08747830203587954 | HighFractal_Dir:HigherHigh | LowFractal_Dir:lowerLow"},{"i":0.9,"p":2197.1,"t":"Previous Signal :Buy-Stop-candle from: 2098.058"},{"i":0.9,"p":2193.0,"t":"Bars: 23484 | ArraySize UpSignal: 23484 | Stoploss:2074.761 | ResetLoop:false"},{"i":0.9,"p":2188.8,"t":"tema_m1_sell: false | tema_m1_buy: true | EMA50_buy:true | EMA50_sell:true"},{"i":0.9,"p":2184.6,"t":"M1_High_BOS:false | High_shift_m1: 0.0 | M5_High_BOS:false | M5_High_shift: 0.0"},{"i":16.1,"p":2042.6,"t":"FSB-HighToBreak | 2040.434"}]
},
"encoding":{"x":{"field":"i","type":"quantitative","title":null,"scale":{"domain":[-0.25,306.5],"nice":false,"zero":false,"padding":0},"axis":{"orient":"bottom","values":[0,16,32,48,64,80,96,112,128,144,160,176,192,208,224,240],"labelExpr":"['3 Mar 2026','4 Mar 02:00','4 Mar 18:00','5 Mar 10:00','6 Mar 02:00','6 Mar 18:00','7 Mar 10:00','8 Mar 02:00','8 Mar 18:00','9 Mar 10:00','10 Mar 02:00','10 Mar 18:00','11 Mar 10:00','12 Mar 02:00','12 Mar 18:00','13 Mar 10:00'][datum.value/16]","labelAlign":"left","labelBaseline":"middle","labelPadding":6,"labelOverlap":false,"labelBound":false,"labelFlush":false,"labelFont":"Noto Sans","labelFontSize":9.5,"labelColor":"#000000","tickColor":"#000000","tickSize":3,"domain":false,"grid":false}},"y":{"field":"p","type":"quantitative","title":null,"scale":{"domain":[1901.34,2212.79],"nice":false,"zero":false},"axis":{"orient":"right","values":[2211.475,2200.09,2188.705,2177.32,2165.59,2154.205,2142.82,2131.435,2120.05,2108.32,2096.935,2085.55,2074.165,2062.78,2051.05,2039.665,2028.28,2016.895,2005.165,1993.78,1982.395,1971.01,1959.625,1947.895,1936.51,1925.125,1913.74,1902.355],"format":".3f","labelOverlap":false,"labelBound":false,"labelFlush":false,"labelFont":"Noto Sans","labelFontSize":9.5,"labelColor":"#000000","labelPadding":3,"tickColor":"#000000","tickSize":3,"domain":false,"grid":false}}},
"layer":[
{"data":{"values":[{"i":193.9,"i2":219.9,"p":2078.0,"p2":2197.177}]},"mark":{"type":"rect","fill":"#FF806F"},"encoding":{"x2":{"field":"i2"},"y2":{"field":"p2"}}},
{"data":{"values":[{"i":193.9,"i2":219.9,"p":2005.112,"p2":2078.0},{"i":198.9,"i2":214.9,"p":1958.074,"p2":2005.112},{"i":202.9,"i2":209.9,"p":1901.34,"p2":1958.074}]},"mark":{"type":"rect","fill":"#7FFF00"},"encoding":{"x2":{"field":"i2"},"y2":{"field":"p2"}}},
{"data":{"values":[{"i":14,"p":1901.34,"p2":2212.79},{"i":38,"p":1901.34,"p2":2212.79},{"i":62,"p":1901.34,"p2":2212.79},{"i":86,"p":1901.34,"p2":2212.79},{"i":110,"p":1901.34,"p2":2212.79},{"i":134,"p":1901.34,"p2":2212.79},{"i":158,"p":1901.34,"p2":2212.79},{"i":182,"p":1901.34,"p2":2212.79},{"i":206,"p":1901.34,"p2":2212.79},{"i":230,"p":1901.34,"p2":2212.79},{"i":254,"p":1901.34,"p2":2212.79}]},"mark":{"type":"rule","stroke":"#000000","strokeWidth":1,"strokeDash":[3,3]},"encoding":{"y2":{"field":"p2"}}},
{"data":{"values":[{"i":35,"p":1901.34,"p2":2212.79},{"i":176,"p":1901.34,"p2":2212.79}]},"mark":{"type":"rule","stroke":"#A0206E","strokeWidth":1,"strokeDash":[6,2,2,2]},"encoding":{"y2":{"field":"p2"}}},
{"data":{"values":[{"i":206,"p":1901.34,"p2":2078}]},"mark":{"type":"rule","stroke":"#A0409E","strokeWidth":1,"strokeDash":[3,3]},"encoding":{"y2":{"field":"p2"}}},
{"data":{"values":[{"i":191,"p":1901.34,"p2":2212.79}]},"mark":{"type":"rule","stroke":"#B0E0E6","strokeWidth":1,"strokeDash":[6,2,2,2]},"encoding":{"y2":{"field":"p2"}}},
{"data":{"values":[{"i":-0.25,"i2":306.5,"p":2115.068}]},"mark":{"type":"rule","stroke":"#778899","strokeWidth":1},"encoding":{"x2":{"field":"i2"}}},
{"data":{"values":[{"i":38,"i2":240.75,"p":2162.561}]},"mark":{"type":"rule","stroke":"#ADFF2F","strokeWidth":1.5},"encoding":{"x2":{"field":"i2"}}},
{"data":{"values":[{"i":38,"i2":240.75,"p":2141.4}]},"mark":{"type":"rule","stroke":"#FF4500","strokeWidth":1.5},"encoding":{"x2":{"field":"i2"}}},
{"data":{"values":[{"i":132,"i2":306.5,"p":2016.589}]},"mark":{"type":"rule","stroke":"#CC1111","strokeWidth":1,"strokeDash":[9,3,4,3]},"encoding":{"x2":{"field":"i2"}}},
{"data":{"values":[{"i":132,"i2":240.75,"p":1969.779}]},"mark":{"type":"rule","stroke":"#FFFFFF","strokeWidth":1.2,"strokeDash":[9,3,2,3]},"encoding":{"x2":{"field":"i2"}}},
{"data":{"name":"blueStep"},"mark":{"type":"line","stroke":"#6495ED","strokeWidth":1,"strokeDash":[4,3],"clip":true},"encoding":{"detail":{"field":"s"},"order":null}},
{"data":{"name":"orangeStep"},"mark":{"type":"line","stroke":"#FF4500","strokeWidth":1,"strokeDash":[3,2],"clip":true},"encoding":{"order":null}},
{"data":{"name":"candles"},"mark":{"type":"rule","stroke":"#000000","strokeWidth":1},"encoding":{"y":{"field":"l","type":"quantitative","axis":null,"scale":{"domain":[1901.34,2212.79],"nice":false,"zero":false}},"y2":{"field":"h"}}},
{"data":{"name":"candles"},"mark":{"type":"bar","size":3,"orient":"vertical","stroke":"#000000","strokeWidth":1},"encoding":{"y":{"field":"o","type":"quantitative","axis":null,"scale":{"domain":[1901.34,2212.79],"nice":false,"zero":false}},"y2":{"field":"c"},"fill":{"condition":{"test":"datum.c>=datum.o","value":"#3CB371"},"value":"#B22234"}}},
{"data":{"values":[{"i":-0.25,"i2":306.5,"p":2040.434}]},"mark":{"type":"rule","stroke":"#0000FF","strokeWidth":1.3,"strokeDash":[16,8]},"encoding":{"x2":{"field":"i2"}}},
{"data":{"values":[{"i":232,"i2":243.5,"p":2147.4}]},"mark":{"type":"rule","stroke":"#DC143C","strokeWidth":1.3},"encoding":{"x2":{"field":"i2"}}},
{"data":{"values":[{"i":238,"i2":249.5,"p":2088.9}]},"mark":{"type":"rule","stroke":"#8A2BE2","strokeWidth":1.2},"encoding":{"x2":{"field":"i2"}}},
{"data":{"name":"ema200"},"mark":{"type":"line","stroke":"#000000","strokeWidth":3.2}},
{"data":{"name":"slow"},"mark":{"type":"line","stroke":"#000080","strokeWidth":1.8}},
{"data":{"name":"fast"},"mark":{"type":"line","stroke":"#000080","strokeWidth":3.2}},
{"data":{"name":"crosses"},"mark":{"type":"point","shape":"M-1,-0.8L1,0.8M-0.8,1L0.8,-1","size":144,"stroke":"#FFA500","strokeWidth":3,"filled":false,"opacity":1}},
{"data":{"name":"stars"},"mark":{"type":"point","shape":"M0,-1L0.224,-0.309L0.951,-0.309L0.363,0.118L0.588,0.809L0,0.382L-0.588,0.809L-0.363,0.118L-0.951,-0.309L-0.224,-0.309Z","size":380,"fill":"#FFFF00","stroke":"#FFFF00","strokeWidth":0,"filled":true,"opacity":1}},
{"data":{"name":"redArrows"},"mark":{"type":"point","shape":"M0,1L1,0L0.4,0L0.4,-1L-0.4,-1L-0.4,0L-1,0Z","size":160,"fill":"#FF0000","filled":true,"opacity":1,"strokeWidth":0}},
{"data":{"name":"blueArrows"},"mark":{"type":"point","shape":"M0,-1L1,0L0.4,0L0.4,1L-0.4,1L-0.4,0L-1,0Z","size":160,"fill":"#0000FF","filled":true,"opacity":1,"strokeWidth":0}},
{"data":{"values":[{"i":185.6,"p":2048.9},{"i":209.6,"p":2056.5}]},"mark":{"type":"point","shape":"M0,1L1,0L0.4,0L0.4,-1L-0.4,-1L-0.4,0L-1,0Z","angle":-45,"size":100,"stroke":"#FF4500","strokeWidth":1,"filled":false,"opacity":1}},
{"data":{"name":"header"},"mark":{"type":"text","align":"left","baseline":"middle","font":"Noto Sans","fontSize":9,"fill":"#000000"},"encoding":{"text":{"field":"t"}}},
{"data":{"name":"labelsSmall"},"mark":{"type":"text","align":"left","baseline":"middle","font":"Noto Sans","fontSize":10.4},"encoding":{"text":{"field":"t"},"color":{"field":"k","type":"nominal","legend":null,"scale":{"domain":["note","stop","entry","sell","black","blue"],"range":["#222222","#FF4500","#2F4F4F","#A52A2A","#000000","#0000FF"]}}}},
{"data":{"name":"labelsMain"},"mark":{"type":"text","align":"left","baseline":"middle","font":"Noto Sans","fontSize":12},"encoding":{"text":{"field":"t"},"color":{"field":"k","type":"nominal","legend":null,"scale":{"domain":["note","stop","entry","sell","black","blue"],"range":["#222222","#FF4500","#2F4F4F","#A52A2A","#000000","#0000FF"]}}}},
{"data":{"name":"labelsLarge"},"mark":{"type":"text","align":"left","baseline":"middle","font":"Noto Sans","fontSize":14},"encoding":{"text":{"field":"t"},"color":{"field":"k","type":"nominal","legend":null,"scale":{"domain":["note","stop","entry","sell","black","blue"],"range":["#222222","#FF4500","#2F4F4F","#A52A2A","#000000","#0000FF"]}}}},
{"data":{"values":[{"i":306.9,"i2":318.4,"p":2113.2,"p2":2117.0}]},"mark":{"type":"rect","fill":"#000000"},"encoding":{"x2":{"field":"i2"},"y2":{"field":"p2"}}},
{"data":{"values":[{"i":306.9,"i2":318.4,"p":2038.4,"p2":2042.4}]},"mark":{"type":"rect","fill":"#0000FF"},"encoding":{"x2":{"field":"i2"},"y2":{"field":"p2"}}},
{"data":{"values":[{"i":307.8,"p":2115.068,"t":"2115.068"},{"i":307.8,"p":2040.434,"t":"2040.434"}]},"mark":{"type":"text","align":"left","baseline":"middle","font":"Noto Sans","fontSize":9.5,"fill":"#FFFFFF"},"encoding":{"text":{"field":"t"}}}
]}
